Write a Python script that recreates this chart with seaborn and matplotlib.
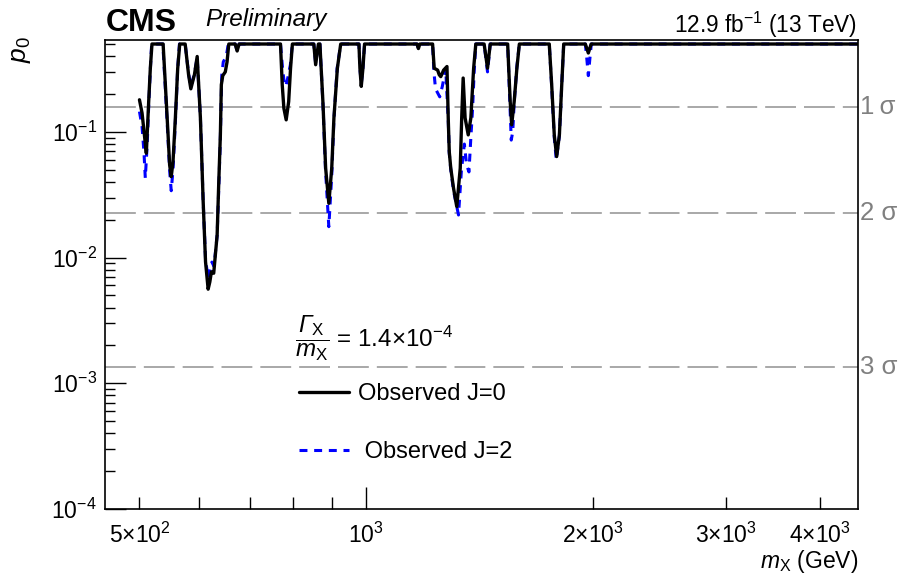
import numpy as np
import pandas as pd
import seaborn as sns
import matplotlib
matplotlib.use('Agg')
import matplotlib.pyplot as plt
from matplotlib.ticker import FixedLocator, FixedFormatter, LogLocator, NullFormatter
from matplotlib.lines import Line2D

# observed local p-values, J=0
mass_j0 = [500, 504, 507.6, 510.6, 514.3, 516.9, 519.5,
           537.5, 541.2, 545.7, 548.3, 551, 554, 558, 562, 565.5,
           575, 581, 585, 591.5, 596.5, 602.4, 607.5, 611.9, 616.8, 620,
           623, 627.4, 634, 637, 640.3, 642.2, 645, 650, 653.5, 657,
           670, 674, 678,
           769.5, 773.6, 777.5, 783, 789, 793.5, 798,
           852, 856.8, 864,
           868, 876, 883.4, 892, 900, 906, 915.6, 925,
           978, 981, 985, 990, 995,
           1168, 1173, 1178,
           1225, 1231, 1244, 1250, 1256, 1267, 1280, 1285, 1289, 1295,
           1306, 1319, 1333, 1339, 1345, 1353, 1366, 1377, 1388.7, 1398,
           1434, 1449, 1461,
           1541, 1546, 1553, 1560, 1572, 1585, 1597,
           1750, 1763, 1777, 1790, 1805, 1818, 1829,
           1954, 1972, 1989, 4500]
p0_j0 = [0.18, 0.141, 0.0946, 0.0676, 0.174, 0.321, 0.5,
         0.5, 0.237, 0.0946, 0.0546, 0.044, 0.058, 0.129, 0.32, 0.5,
         0.5, 0.285, 0.22, 0.285, 0.398, 0.129, 0.0279, 0.00926, 0.0056, 0.0064,
         0.0077, 0.0075, 0.0151, 0.0378, 0.0946, 0.237, 0.28, 0.30, 0.36, 0.5,
         0.5, 0.44, 0.5,
         0.5, 0.237, 0.154, 0.1246, 0.174, 0.32, 0.5,
         0.5, 0.342, 0.5,
         0.5, 0.174, 0.0514, 0.027, 0.0514, 0.129, 0.32, 0.5,
         0.5, 0.32, 0.23, 0.32, 0.5,
         0.5, 0.46, 0.5,
         0.5, 0.321, 0.31, 0.285, 0.275, 0.31, 0.331, 0.129, 0.0697, 0.0514,
         0.0356, 0.0254, 0.0514, 0.129, 0.268, 0.129, 0.0946, 0.129, 0.32, 0.5,
         0.5, 0.321, 0.5,
         0.5, 0.32, 0.174, 0.1137, 0.174, 0.32, 0.5,
         0.5, 0.237, 0.0946, 0.0636, 0.0946, 0.237, 0.5,
         0.5, 0.424, 0.5, 0.5]

# observed local p-values, J=2
mass_j2 = [500, 504, 507, 509, 512, 514.5, 517, 519,
           537, 541, 545.5, 548.5, 551, 554, 558, 562, 565,
           575, 581, 585, 591.5, 596.5, 602.4, 607.5, 612, 617, 621,
           624, 628, 634, 637, 640, 643, 646, 652, 656,
           670, 674, 678,
           769.5, 774, 778, 782, 787, 793, 798,
           852, 856.8, 864,
           868, 876, 883, 892, 900, 906, 915, 925,
           978, 981, 985, 990, 995,
           1168, 1173, 1178,
           1225, 1230, 1236, 1252, 1262, 1275, 1285, 1289, 1295, 1306,
           1326, 1338, 1350, 1359, 1369, 1377, 1384, 1391, 1398,
           1434, 1449, 1461,
           1541, 1546, 1552, 1558, 1565, 1572, 1585, 1597,
           1750, 1763, 1777, 1788, 1805, 1818, 1829,
           1954, 1963, 1972, 1981, 1990, 4500]
p0_j2 = [0.145, 0.11, 0.068, 0.043, 0.08, 0.17, 0.32, 0.5,
         0.5, 0.23, 0.09, 0.048, 0.034, 0.05, 0.12, 0.32, 0.5,
         0.5, 0.29, 0.23, 0.29, 0.39, 0.13, 0.028, 0.0095, 0.0068, 0.0082,
         0.0092, 0.0085, 0.015, 0.034, 0.08, 0.28, 0.36, 0.4, 0.5,
         0.5, 0.44, 0.5,
         0.5, 0.33, 0.25, 0.23, 0.27, 0.34, 0.5,
         0.5, 0.35, 0.5,
         0.5, 0.17, 0.05, 0.0176, 0.045, 0.125, 0.32, 0.5,
         0.5, 0.32, 0.24, 0.32, 0.5,
         0.5, 0.46, 0.5,
         0.5, 0.3, 0.22, 0.19, 0.23, 0.32, 0.125, 0.068, 0.05, 0.034,
         0.0218, 0.05, 0.08, 0.055, 0.048, 0.09, 0.15, 0.3, 0.5,
         0.5, 0.3, 0.5,
         0.5, 0.3, 0.16, 0.086, 0.1, 0.17, 0.33, 0.5,
         0.5, 0.23, 0.09, 0.06, 0.093, 0.237, 0.5,
         0.5, 0.38, 0.28, 0.38, 0.5, 0.5]

sigma_p = [0.1587, 0.02275, 0.00135]
sigma_labels = ['1\u2009σ', '2 σ', '3 σ']

ytick_vals = [1e-4, 1e-3, 1e-2, 1e-1]
ytick_labels = ['10$^{-4}$', '10$^{-3}$', '10$^{-2}$', '10$^{-1}$']
xmajor_vals = [1000]
xmajor_labels = ['10$^{3}$']
xminor_vals = [500, 600, 700, 800, 900, 2000, 3000, 4000]
xminor_labels = ['5×10$^{2}$', '', '', '', '', '2×10$^{3}$', '3×10$^{3}$', '4×10$^{3}$']

df0 = pd.DataFrame({'mass': mass_j0, 'p0': p0_j0})
df2 = pd.DataFrame({'mass': mass_j2, 'p0': p0_j2})

sns.set_style('ticks')
plt.rcParams['font.family'] = ['Liberation Sans', 'DejaVu Sans']
plt.rcParams['mathtext.fontset'] = 'custom'
plt.rcParams['mathtext.rm'] = 'Liberation Sans'
plt.rcParams['mathtext.it'] = 'Liberation Sans:italic'
plt.rcParams['mathtext.bf'] = 'Liberation Sans:bold'
# italic capital Greek (mathit forces upright Greek in the custom set)
plt.rcParams['mathtext.sf'] = 'Liberation Sans:italic'
for k in ['text.color', 'axes.labelcolor', 'xtick.color', 'ytick.color', 'axes.edgecolor']:
    plt.rcParams[k] = 'black'

fig = plt.figure(figsize=(9.13, 5.77), dpi=100)
ax = fig.add_axes([0.115, 0.118, 0.825, 0.813])

for pv in sigma_p:
    ax.axhline(pv, color='#9a9a9a', lw=1.2, dashes=(18.5, 4.8), zorder=1)

sns.lineplot(data=df2, x='mass', y='p0', ax=ax, color='#0000ff', lw=2.2,
             estimator=None, sort=False, zorder=2)
ax.lines[-1].set_dashes((2.6, 2.2))
sns.lineplot(data=df0, x='mass', y='p0', ax=ax, color='black', lw=2.4,
             estimator=None, sort=False, zorder=3)

ax.set_xscale('log')
ax.set_yscale('log')
ax.set_xlim(450, 4500)
ax.set_ylim(1e-4, 0.54)

ax.yaxis.set_major_locator(FixedLocator(ytick_vals))
ax.yaxis.set_major_formatter(FixedFormatter(ytick_labels))
ax.yaxis.set_minor_locator(LogLocator(base=10, subs=np.arange(2, 10)))
ax.yaxis.set_minor_formatter(NullFormatter())
ax.xaxis.set_major_locator(FixedLocator(xmajor_vals))
ax.xaxis.set_major_formatter(FixedFormatter(xmajor_labels))
ax.xaxis.set_minor_locator(FixedLocator(xminor_vals))
ax.xaxis.set_minor_formatter(FixedFormatter(xminor_labels))

ax.tick_params(axis='both', which='both', direction='in', labelsize=16.5,
               top=False, right=False, width=1.0, color='black', labelcolor='black')
ax.tick_params(axis='y', which='major', length=15, pad=6)
ax.tick_params(axis='y', which='minor', length=7)
ax.tick_params(axis='x', which='major', length=16, pad=10)
ax.tick_params(axis='x', which='minor', length=9, pad=10)

for s in ax.spines.values():
    s.set_linewidth(1.2)
    s.set_color('black')

ax.set_xlabel(r'$\mathit{m}_{\mathrm{X}}$ (GeV)', fontsize=16.5)
ax.xaxis.set_label_coords(1.0, -0.083)
ax.xaxis.label.set_horizontalalignment('right')
ax.set_ylabel(r'$\mathit{p}_{\mathit{0}}$', fontsize=19)
ax.yaxis.set_label_coords(-0.096, 0.979)
ax.yaxis.label.set_horizontalalignment('center')

for pv, lab in zip(sigma_p, sigma_labels):
    ax.text(1.003, pv, lab, transform=ax.get_yaxis_transform(), color='#808080',
            fontsize=18.5, va='center', ha='left')

fig.text(0.116, 0.9455, 'CMS', fontsize=23, fontweight='bold', va='baseline', ha='left')
fig.text(0.2245, 0.955, 'Preliminary', fontsize=17.5, style='italic', va='baseline', ha='left')
fig.text(0.939, 0.9428, '12.9 fb$^{-1}$ (13 TeV)', fontsize=16.3, va='baseline', ha='right')

fig.text(0.323, 0.414, r'$\dfrac{\mathsf{Γ}_{\mathrm{X}}}{\mathit{m}_{\mathrm{X}}}$ = 1.4×10$^{-4}$',
         fontsize=17.4, va='center', ha='left')

handles = [Line2D([], [], color='black', lw=2.4),
           Line2D([], [], color='#0000ff', lw=2.2, dashes=(2.6, 2.2))]
ax.legend(handles, ['Observed J=0', ' Observed J=2'], loc='upper left',
          bbox_to_anchor=(0.328, 0.3366), bbox_transform=fig.transFigure,
          frameon=False, fontsize=17, handlelength=2.1, handletextpad=0.4,
          labelspacing=1.535, borderpad=0, borderaxespad=0)

fig.savefig('out.png', dpi=100)
